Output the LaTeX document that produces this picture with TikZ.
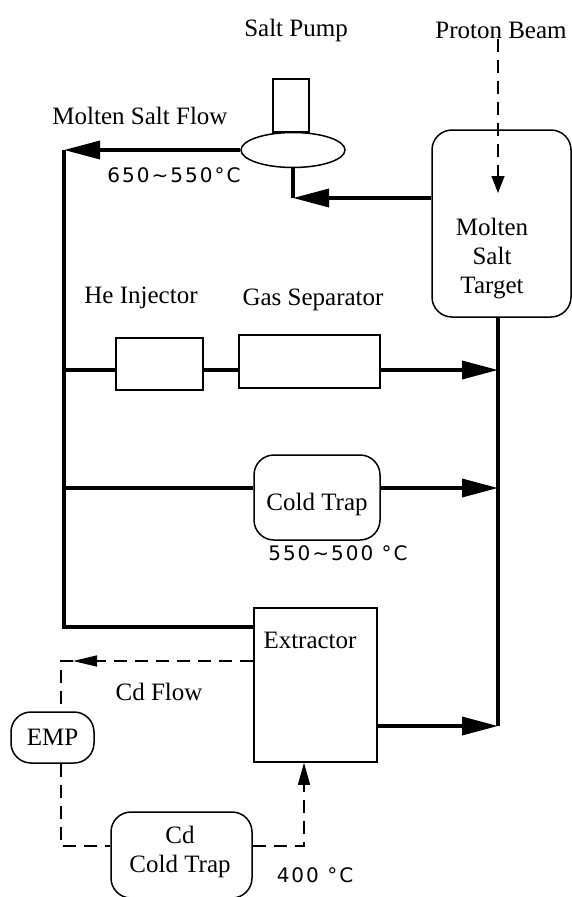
\documentclass[tikz,border=0pt]{standalone}
\usepackage{fontspec}
\setmainfont{Liberation Serif}
\newfontfamily\tempfont[LetterSpace=10]{DejaVu Sans}
\usetikzlibrary{arrows.meta,shapes.geometric}
\begin{document}
\begin{tikzpicture}[x=1pt,y=-1pt,
  lbl/.style={font=\fontsize{25}{29}\selectfont, inner sep=0pt, align=center},
  tmp/.style={font=\tempfont\fontsize{20}{22}\selectfont, inner sep=0pt},
  box/.style={draw, line width=1.5pt, inner sep=0pt, rectangle},
  rbox/.style={box, rounded corners=20pt},
  flow/.style={line width=3.5pt},
  flowarrow/.style={flow, -{Triangle[length=36pt,width=18pt]}},
  cdline/.style={line width=1.4pt, dash pattern=on 13pt off 8pt}
]
\useasboundingbox (0,0) rectangle (572,897);
\fill[white] (0,0) rectangle (572,897);

% labels
\node[lbl] (salt) at (296,30) {Salt Pump};
\node[lbl] (proton) at (501,30) {Proton Beam};
\node[lbl] (msf) at (140,116) {Molten Salt Flow};
\node[tmp] (t1) at (174,175) {650\textasciitilde550°C};
\node[lbl] (helbl) at (141,298) {He Injector};
\node[lbl] (gaslbl) at (313,300) {Gas Separator};
\node[tmp] (t2) at (338,553) {550\textasciitilde500 °C};
\node[lbl] (cdflow) at (159,692) {Cd Flow};
\node[tmp] (t3) at (315,875) {400 °C};

% components
\node[box, minimum width=36pt, minimum height=53pt] (pumptop) at (291,105.5) {};
\node[draw, ellipse, line width=1.5pt, minimum width=104pt, minimum height=35pt, inner sep=0pt, fill=white] (pump) at (293,150) {};
\node[rbox, minimum width=139pt, minimum height=187pt] (target) at (501.5,223.5) {};
\node[lbl] (targettext) at (492,259) {Molten\\Salt\\Target};
\node[box, minimum width=87pt, minimum height=52pt] (he) at (159.5,364) {};
\node[box, minimum width=141pt, minimum height=53pt] (gas) at (309.5,361.5) {};
\node[rbox, minimum width=126pt, minimum height=85pt] (ct) at (317,497.5) {};
\node[lbl] (ctlbl) at (317,504) {Cold Trap};
\node[box, minimum width=123pt, minimum height=154pt] (ext) at (315.5,685) {};
\node[lbl] (extlbl) at (310,640) {Extractor};
\node[rbox, lbl, minimum width=83pt, minimum height=51pt] (emp) at (52.5,737.5) {EMP};
\node[rbox, minimum width=141pt, minimum height=86pt] (cdct) at (181.5,855) {};
\node[lbl] (cdctlbl) at (180,852) {Cd\\Cold Trap};

% coordinates
\coordinate (tl) at (64,150);
\coordinate (bl) at (64,627);
\coordinate (pc) at (293,198);
\coordinate (bt) at (498,193);
\coordinate (rtop) at (498,317);
\coordinate (rbot) at (498,726);
\coordinate (hey) at (64,370);
\coordinate (cty) at (64,488);
\coordinate (cdtl) at (61,661);
\coordinate (cdah) at (73,661);
\coordinate (cdbl) at (61,846);
\coordinate (cdbr) at (304,846);

% molten salt loop
\draw[flowarrow] (pump.west) -- (tl);
\draw[flow] (tl) -- (bl) -- (ext.west |- bl);
\draw[flow] (pump.south) -- (pc);
\draw[flowarrow] (target.west |- pc) -- (pc);
\draw[flow] (rtop) -- (rbot);
\draw[flowarrow] (ext.east |- rbot) -- (rbot);
\draw[flow] (hey) -- (he.west |- hey);
\draw[flow] (he.east |- hey) -- (gas.west |- hey);
\draw[flowarrow] (gas.east |- hey) -- (hey -| rtop);
\draw[flow] (cty) -- (ct.west |- cty);
\draw[flowarrow] (ct.east |- cty) -- (cty -| rtop);

% proton beam
\draw[cdline, -{Triangle[length=17pt,width=13pt]}] (proton.south -| bt) -- (bt);

% Cd loop
\draw[cdline, -{Triangle[length=24pt,width=11pt]}] (ext.west |- cdtl) -- (cdah);
\draw[cdline] (cdah) -- (cdtl) -- (cdtl |- emp.north);
\draw[cdline] (cdtl |- emp.south) -- (cdbl) -- (cdct.west |- cdbl);
\draw[cdline, -{Triangle[length=22pt,width=12pt]}] (cdct.east |- cdbl) -- (cdbr) -- (cdbr |- ext.south);
\end{tikzpicture}
\end{document}
